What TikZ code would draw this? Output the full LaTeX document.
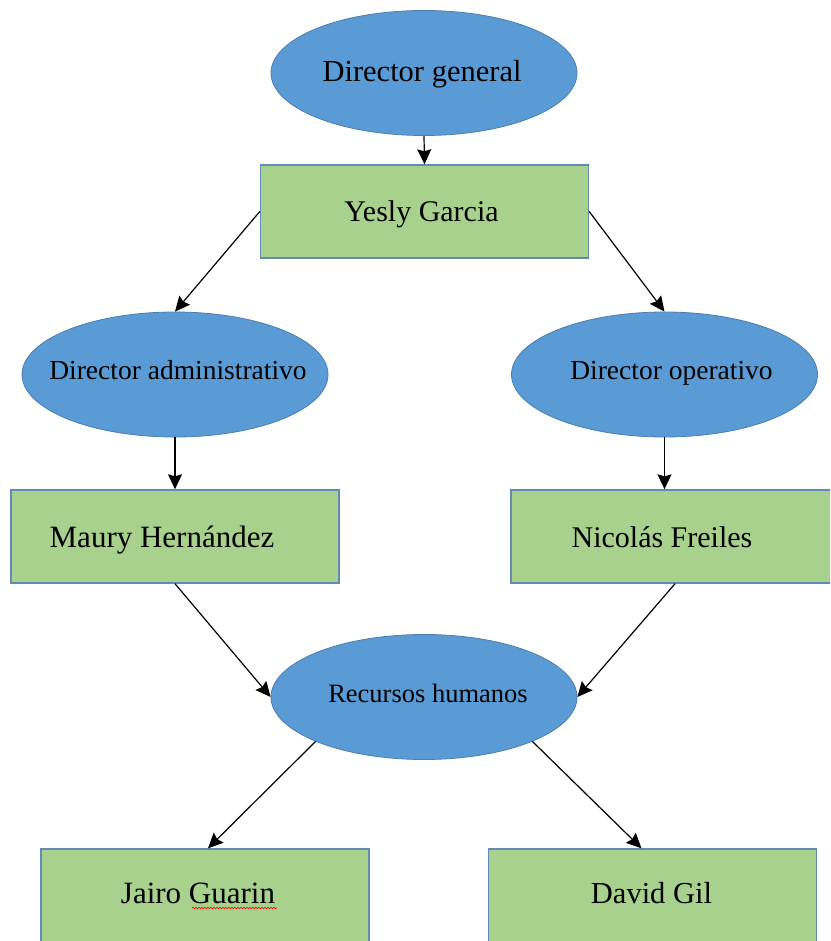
\documentclass[tikz,border=0pt]{standalone}
\usepackage{fontspec}
\setmainfont{Liberation Serif}
\usetikzlibrary{shapes.geometric,arrows.meta,calc,decorations.pathmorphing}
\definecolor{ellfill}{HTML}{5B9BD5}
\definecolor{ellline}{HTML}{4A7EB0}
\definecolor{boxfill}{HTML}{A9D18E}
\definecolor{boxline}{HTML}{6389B5}
% text of zero width, moved sideways by #1 pt
\newcommand{\tx}[2]{\makebox[0pt]{\hspace*{#1pt}\hspace*{#1pt}#2}}
\tikzset{
  ellnode/.style={ellipse, fill=ellfill, draw=ellline, line width=0.8pt,
    minimum width=306pt, minimum height=125pt, inner sep=0pt,
    text height=10pt, text depth=0pt},
  boxnode/.style={rectangle, fill=boxfill, draw=boxline, line width=1.4pt,
    minimum width=328pt, minimum height=93pt, inner sep=0pt,
    text height=21pt, text depth=0pt},
  conn/.style={line width=1.2pt, draw=black, -{Stealth[length=15pt,width=14pt,inset=2pt]}},
  fs/.style={font=\fontsize{#1}{#1}\selectfont}
}
\begin{document}
\begin{tikzpicture}[x=1pt,y=-1pt]
\useasboundingbox (0,0) rectangle (830,941);
\begin{scope}
\clip (0,0) rectangle (830,941);
\node[ellnode, fs=30.5, text height=18pt] (DG) at (424,73) {\tx{-2}{Director general}};
\node[boxnode, fs=30] (YG) at (424.5,211.5) {\tx{-3}{Yesly Garcia}};
\node[ellnode, fs=27.5] (DA) at (175,374.5) {\tx{3}{Director administrativo}};
\node[ellnode, fs=27.5] (DO) at (664.5,374.5) {\tx{7}{Director operativo}};
\node[boxnode, fs=31] (MH) at (175,536.5) {\tx{-13}{Maury Hernández}};
\node[boxnode, fs=30] (NF) at (675,536.5) {\tx{-13}{Nicolás Freiles}};
\node[ellnode, fs=26.5] (RH) at (424,697) {\tx{4}{Recursos humanos}};
\node[boxnode, fs=31, text height=15pt] (JG) at (205,895.5) {\tx{-7}{Jairo Guarin}};
\node[boxnode, fs=30.5, text height=15pt] (DV) at (652.5,895.5) {\tx{-1}{David Gil}};
\end{scope}
\coordinate (jtop) at ($(JG.north)+(3,0)$);
\coordinate (dtop) at ($(DV.north)+(-11,0)$);
\draw[conn] (DG.south) -- (YG.north);
\draw[conn] (YG.west) -- (DA.north);
\draw[conn] (YG.east) -- (DO.north);
\draw[conn] (DA.south) -- (MH.north);
\draw[conn] (DO.south) -- (DO.south |- NF.north);
\draw[conn] (MH.south) -- (RH.west);
\draw[conn] (NF.south) -- (RH.east);
\draw[conn] (RH.south west) -- (jtop);
\draw[conn] (RH.south east) -- (dtop);
\draw[red, line width=0.6pt, decorate, decoration={snake, amplitude=0.8pt, segment length=3pt}]
  ($(JG.center)+(-13,12.5)$) -- ($(JG.center)+(72,12.5)$);
\end{tikzpicture}
\end{document}
